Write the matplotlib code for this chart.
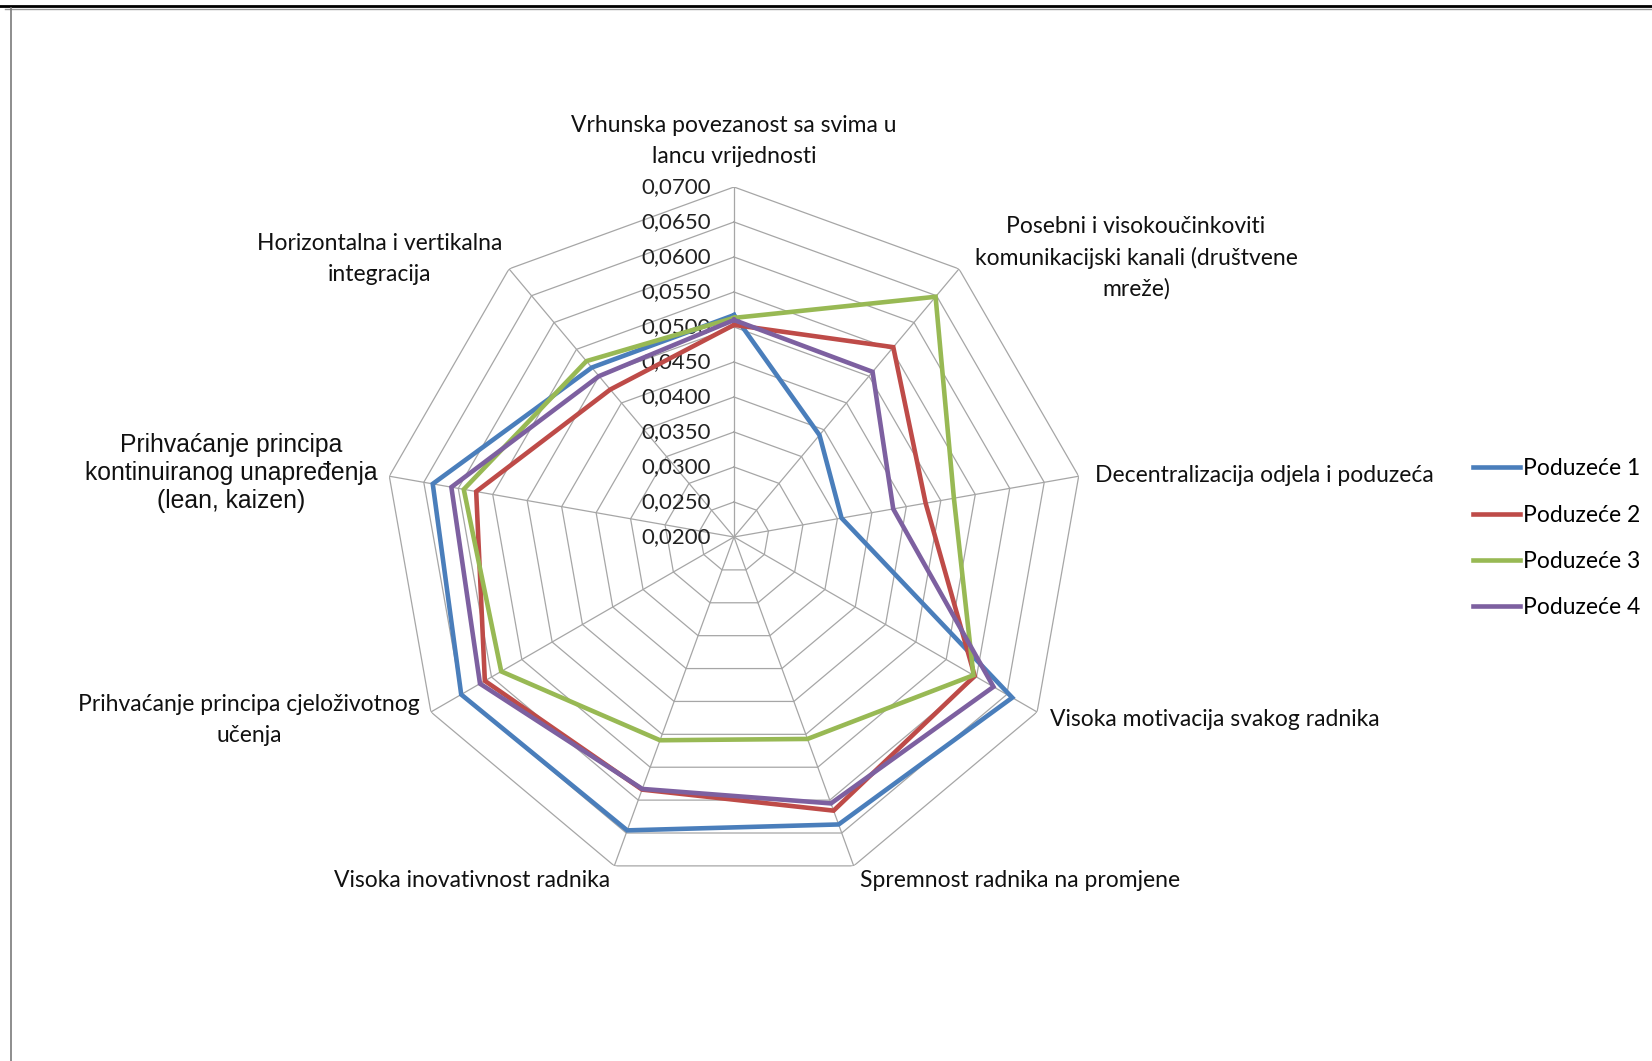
import numpy as np
import matplotlib.pyplot as plt
import matplotlib.lines as mlines

# categories clockwise from top
categories = [
    "Vrhunska povezanost sa svima u\nlancu vrijednosti",
    "Posebni i visokoučinkoviti\nkomunikacijski kanali (društvene\nmreže)",
    "Decentralizacija odjela i poduzeća",
    "Visoka motivacija svakog radnika",
    "Spremnost radnika na promjene",
    "Visoka inovativnost radnika",
    "Prihvaćanje principa cjeloživotnog\nučenja",
    "Prihvaćanje principa\nkontinuiranog unapređenja\n(lean, kaizen)",
    "Horizontalna i vertikalna\nintegracija",
]
series_names = ["Poduzeće 1", "Poduzeće 2", "Poduzeće 3", "Poduzeće 4"]
poduzece_1 = [0.0517, 0.0390, 0.0356, 0.0659, 0.0637, 0.0646, 0.0650, 0.0637, 0.0516]
poduzece_2 = [0.0503, 0.0554, 0.0478, 0.0597, 0.0616, 0.0584, 0.0611, 0.0574, 0.0475]
poduzece_3 = [0.0513, 0.0648, 0.0519, 0.0595, 0.0507, 0.0509, 0.0584, 0.0592, 0.0528]
poduzece_4 = [0.0510, 0.0508, 0.0431, 0.0628, 0.0605, 0.0583, 0.0619, 0.0610, 0.0500]
tick_values = [0.0200, 0.0250, 0.0300, 0.0350, 0.0400, 0.0450, 0.0500, 0.0550, 0.0600, 0.0650, 0.0700]

colors = ["#4A7EBB", "#BE4B48", "#98B954", "#7D60A0"]
grid_color = "#a6a6a6"
font = "Lato"

fig = plt.figure(figsize=(16.52, 10.61), dpi=100)
ax = fig.add_axes([384 / 1652, 174 / 1061, 700 / 1652, 700 / 1061], projection="polar")
ax.set_theta_zero_location("N")
ax.set_theta_direction(-1)
ax.set_ylim(tick_values[0], tick_values[-1])
ax.grid(False)
ax.spines["polar"].set_visible(False)
ax.set_xticks([])
ax.set_yticks([])
ax.patch.set_visible(False)

angles = np.deg2rad(np.arange(len(categories)) * 360 / len(categories))
closed = np.append(angles, angles[0])

# polygon grid
for v in tick_values[1:]:
    ax.plot(closed, [v] * len(closed), color=grid_color, lw=0.9, zorder=1)
for t in angles:
    ax.plot([t, t], [tick_values[0], tick_values[-1]], color=grid_color, lw=0.9, zorder=1)

# data
all_series = [poduzece_1, poduzece_2, poduzece_3, poduzece_4]
for vals, col, name in zip(all_series, colors, series_names):
    ax.plot(closed, list(vals) + [vals[0]], color=col, lw=3.3, zorder=3,
            solid_joinstyle="miter", label=name)

# tick labels along top axis
for v in tick_values:
    ax.annotate(f"{v:.4f}".replace(".", ","), xy=(0, v), xytext=(-23, 0),
                textcoords="offset pixels", ha="right", va="center",
                fontsize=16, family=font, color="#222222", annotation_clip=False, zorder=2)

# category labels
label_pos = [
    ((0, 46), "center", "center"),
    ((177, 11), "center", "center"),
    ((16, 1), "left", "center"),
    ((13, -7), "left", "center"),
    ((6, -15), "left", "center"),
    ((-4, -15), "right", "center"),
    ((-11, -8), "right", "center"),
    ((-12, 3), "right", "center"),
    ((-7, 10), "right", "center"),
]
for i, (lab, (off, ha, va)) in enumerate(zip(categories, label_pos)):
    if i == 7:
        fam, size, ls = "Liberation Sans", 17.8, 1.2
    else:
        fam, size, ls = font, 16.5, 1.55
    ax.annotate(lab, xy=(angles[i], tick_values[-1]), xytext=off, textcoords="offset pixels",
                ha=ha, va=va, multialignment="center", fontsize=size, family=fam,
                color="#111111", annotation_clip=False, linespacing=ls)

handles = [mlines.Line2D([], [], color=c, lw=3.3) for c in colors]
fig.legend(handles, series_names, loc="upper left", bbox_to_anchor=(1473 / 1652, 0.568),
           frameon=False, borderpad=0, borderaxespad=0, handlelength=2.05, handletextpad=0.12,
           labelspacing=1.1, prop={"family": font, "size": 16.5})

# frame remnants
fig.add_artist(mlines.Line2D([0, 1], [1 - 5.5 / 1061] * 2, transform=fig.transFigure, color="black", lw=2))
fig.add_artist(mlines.Line2D([0.003, 1], [1 - 8.5 / 1061] * 2, transform=fig.transFigure, color="#9a9a9a", lw=1))
fig.add_artist(mlines.Line2D([11 / 1652] * 2, [0, 1 - 8 / 1061], transform=fig.transFigure, color="#7a7a7a", lw=1.2))

fig.savefig("out.png", dpi=100)
